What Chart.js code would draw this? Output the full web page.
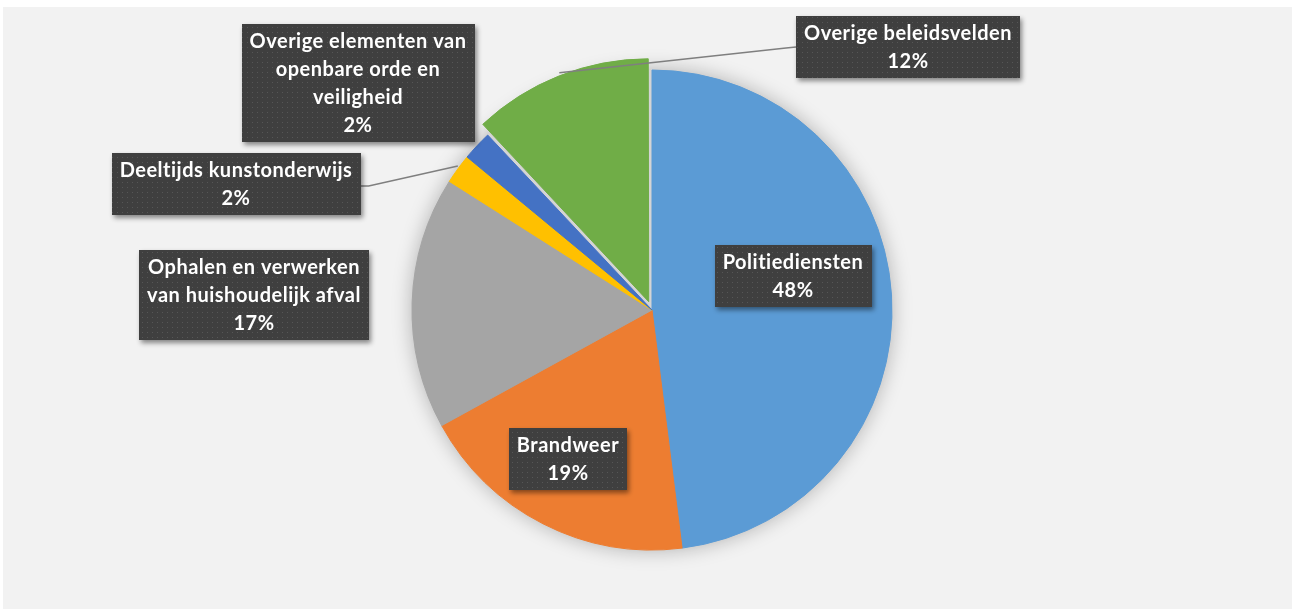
<!DOCTYPE html>
<html>
<head>
<meta charset="utf-8">
<script src="https://cdn.jsdelivr.net/npm/chart.js@4/dist/chart.umd.min.js"></script>
<style>
  html, body { margin: 0; padding: 0; background: #fff; }
  #wrap { position: relative; width: 1292px; height: 609px; }
</style>
</head>
<body>
<div id="wrap"><canvas id="chart"></canvas></div>
<script>
// slice names (one entry per line of the data label) and shares in percent
const categories = [
  ['Politiediensten'],
  ['Brandweer'],
  ['Ophalen en verwerken', 'van huishoudelijk afval'],
  ['Deeltijds kunstonderwijs'],
  ['Overige elementen van', 'openbare orde en', 'veiligheid'],
  ['Overige beleidsvelden']
];
const shares = [48, 19, 17, 2, 2, 12];
const sliceColors = ['#5b9bd5', '#ed7d31', '#a5a5a5', '#ffc000', '#4472c4', '#70ad47'];

// where each data label box sits, relative to the pie centre, and whether it gets a leader line
const labelLayout = [
  { dx: 141, dy: -34 },
  { dx: -84, dy: 149 },
  { dx: -398, dy: -15 },
  { dx: -416, dy: -126, leader: 'right' },
  { dx: -294, dy: -227 },
  { dx: 256, dy: -263, leader: 'left' }
];

function dotPattern(ctx) {
  const tile = document.createElement('canvas');
  tile.width = 5;
  tile.height = 5;
  const t = tile.getContext('2d');
  t.fillStyle = '#3f3f3f';
  t.fillRect(0, 0, 5, 5);
  t.fillStyle = '#565656';
  t.fillRect(2, 2, 1, 1);
  return ctx.createPattern(tile, 'repeat');
}

// grey plot background
const backdrop = {
  id: 'backdrop',
  beforeDraw(chart) {
    const ctx = chart.ctx;
    ctx.save();
    ctx.fillStyle = '#ffffff';
    ctx.fillRect(0, 0, chart.width, chart.height);
    ctx.fillStyle = '#f2f2f2';
    ctx.fillRect(3, 7, chart.width - 3, chart.height - 7);
    ctx.restore();
  }
};

// soft shadow under the whole pie, also fills the gap left by the exploded slice
const pieShadow = {
  id: 'pieShadow',
  beforeDatasetsDraw(chart) {
    const arc = chart.getDatasetMeta(0).data[0];
    const ctx = chart.ctx;
    ctx.save();
    ctx.shadowColor = 'rgba(0,0,0,0.28)';
    ctx.shadowBlur = 20;
    ctx.fillStyle = '#d4d4d4';
    ctx.beginPath();
    ctx.arc(arc.x, arc.y, arc.outerRadius, 0, Math.PI * 2);
    ctx.fill();
    ctx.restore();
  }
};

const dataLabels = {
  id: 'dataLabels',
  afterDatasetsDraw(chart) {
    const ctx = chart.ctx;
    const meta = chart.getDatasetMeta(0);
    const pattern = dotPattern(ctx);
    const lineH = 28;
    ctx.save();
    ctx.font = 'bold 20px Lato';
    ctx.letterSpacing = '0.5px';
    ctx.textAlign = 'center';
    ctx.textBaseline = 'middle';

    meta.data.forEach((arc, i) => {
      const lay = labelLayout[i];
      const lines = chart.data.labels[i].concat([shares[i] + '%']);
      const w = Math.max(...lines.map(l => ctx.measureText(l).width)) + 16;
      const h = lines.length * lineH + 6;
      const cx = arc.x + lay.dx;
      const cy = arc.y + lay.dy;
      const left = Math.round(cx - w / 2);
      const top = Math.round(cy - h / 2);

      if (lay.leader) {
        // point on the rim in the middle of the slice (explode shift included)
        const mid = (arc.startAngle + arc.endAngle) / 2;
        const off = arc.options.offset || 0;
        const fix = 1 - Math.sin(Math.min(Math.PI, arc.endAngle - arc.startAngle));
        const shift = off / 4 * (1 + fix);
        const px = arc.x + Math.cos(mid) * (arc.outerRadius + shift);
        const py = arc.y + Math.sin(mid) * (arc.outerRadius + shift);
        ctx.strokeStyle = '#7f7f7f';
        ctx.lineWidth = 1.5;
        ctx.beginPath();
        if (lay.leader === 'right') {
          ctx.moveTo(left + w, cy + 2);
          ctx.lineTo(left + w + 8, cy + 2);
        } else {
          ctx.moveTo(left, cy);
          ctx.lineTo(left - 10, cy + 1);
        }
        ctx.lineTo(px, py - 3);
        ctx.stroke();
      }

      ctx.save();
      ctx.shadowColor = 'rgba(0,0,0,0.45)';
      ctx.shadowBlur = 5;
      ctx.shadowOffsetX = 2;
      ctx.shadowOffsetY = 3;
      ctx.fillStyle = pattern;
      ctx.fillRect(left, top, Math.round(w), Math.round(h));
      ctx.restore();

      ctx.fillStyle = '#ffffff';
      lines.forEach((l, k) => {
        ctx.fillText(l, cx, top + 3 + lineH * (k + 0.5) + 1);
      });
    });
    ctx.restore();
  }
};

new Chart(document.getElementById('chart'), {
  type: 'pie',
  data: {
    labels: categories,
    datasets: [{
      data: shares,
      backgroundColor: sliceColors,
      borderColor: sliceColors,
      borderWidth: 1,
      offset: [0, 0, 0, 0, 0, 36],
      hoverOffset: 0,
      radius: 240
    }]
  },
  options: {
    responsive: true,
    maintainAspectRatio: false,
    animation: false,
    layout: { padding: { left: 12, right: 0, top: 11, bottom: 0 } },
    plugins: {
      legend: { display: false },
      tooltip: { enabled: false }
    }
  },
  plugins: [backdrop, pieShadow, dataLabels]
});
</script>
</body>
</html>
